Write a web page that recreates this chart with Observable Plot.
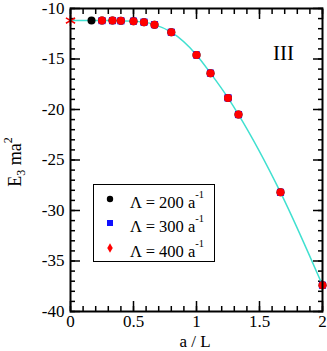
<!DOCTYPE html>
<html><head><meta charset="utf-8">
<script src="https://cdn.jsdelivr.net/npm/d3@7"></script>
<script src="https://cdn.jsdelivr.net/npm/@observablehq/plot@0.6"></script>
<style>body{margin:0;background:#fff}#chart{width:327px;height:351px}</style>
</head><body><div id="chart"></div>
<script>
// data
const x200 = [0.1667, 0.25, 0.3333, 0.4, 0.5, 0.5833, 0.6667, 0.8, 1.0, 1.1111, 1.25, 1.3333, 1.6667, 2.0];
const e200 = [-11.2, -11.2, -11.2, -11.22, -11.25, -11.35, -11.6, -12.35, -14.6, -16.4, -18.85, -20.5, -28.2, -37.4];
const x300 = [0.25, 0.3333, 0.4, 0.5, 0.5833, 0.6667, 0.8, 1.0, 1.1111, 1.25, 1.3333, 1.6667, 2.0];
const e300 = [-11.2, -11.2, -11.22, -11.25, -11.35, -11.6, -12.35, -14.6, -16.4, -18.85, -20.5, -28.2, -37.4];
const x400 = [0.25, 0.3333, 0.4, 0.5, 0.5833, 0.6667, 0.8, 1.0, 1.1111, 1.25, 1.3333, 1.6667, 2.0];
const e400 = [-11.2, -11.2, -11.22, -11.25, -11.35, -11.6, -12.35, -14.6, -16.4, -18.85, -20.5, -28.2, -37.4];
const xLimit = [0];
const eLimit = [-11.2];
const fitX = [0, 0.1667, 0.25, 0.3333, 0.4, 0.5, 0.5833, 0.6667, 0.8, 1.0, 1.1111, 1.25, 1.3333, 1.6667, 2.0];
const fitE = [-11.2, -11.2, -11.2, -11.2, -11.22, -11.25, -11.35, -11.6, -12.35, -14.6, -16.4, -18.85, -20.5, -28.2, -37.4];
const xMajor = [0, 0.5, 1, 1.5, 2];
const xMinor = [0,0.1,0.2,0.3,0.4,0.5,0.6,0.7,0.8,0.9,1,1.1,1.2,1.3,1.4,1.5,1.6,1.7,1.8,1.9,2];
const yMajor = [-40, -35, -30, -25, -20, -15, -10];
const yMinor = [-40,-39,-38,-37,-36,-35,-34,-33,-32,-31,-30,-29,-28,-27,-26,-25,-24,-23,-22,-21,-20,-19,-18,-17,-16,-15,-14,-13,-12,-11,-10];
const seriesLabels = ["200", "300", "400"];
const panelLabel = "III";

const font = "Liberation Serif";
const tickOpts = {stroke: "black", fill: "none", label: null, strokeWidth: 1.5};
const plot = Plot.plot({
  width: 327, height: 351,
  marginLeft: 70, marginRight: 5, marginTop: 8, marginBottom: 40,
  style: {fontFamily: font, fontSize: "17px", color: "black", background: "white"},
  x: {domain: [0, 2], axis: null},
  y: {domain: [-40, -10], axis: null},
  marks: [
    Plot.axisX({anchor: "bottom", ticks: xMinor, tickSize: -5, ...tickOpts}),
    Plot.axisX({anchor: "bottom", ticks: xMajor, tickSize: -10, ...tickOpts}),
    Plot.axisX({anchor: "top", ticks: xMinor, tickSize: -5, ...tickOpts}),
    Plot.axisX({anchor: "top", ticks: xMajor, tickSize: -10, ...tickOpts}),
    Plot.axisY({anchor: "left", ticks: yMinor, tickSize: -5, ...tickOpts}),
    Plot.axisY({anchor: "left", ticks: yMajor, tickSize: -10, ...tickOpts}),
    Plot.axisY({anchor: "right", ticks: yMinor, tickSize: -5, ...tickOpts}),
    Plot.axisY({anchor: "right", ticks: yMajor, tickSize: -10, ...tickOpts}),
    Plot.axisX({anchor: "bottom", ticks: xMajor, tickSize: 0, tickPadding: 3, label: null, fill: "black", fontSize: 17, tickFormat: d => String(d)}),
    Plot.axisY({anchor: "left", ticks: yMajor, tickSize: 0, tickPadding: 6, label: null, fill: "black", fontSize: 17, tickFormat: d => String(d)}),
    Plot.line(fitX, {x: (d, i) => fitX[i], y: (d, i) => fitE[i], stroke: "#40e0d0", strokeWidth: 1.5, curve: "monotone-x"}),
    Plot.dot(x200, {x: (d, i) => x200[i], y: (d, i) => e200[i], r: 4, fill: "black", symbol: "circle"}),
    Plot.dot(x300, {x: (d, i) => x300[i], y: (d, i) => e300[i], r: 4, fill: "#1010ff", symbol: "square"}),
    Plot.dot(x400, {x: (d, i) => x400[i], y: (d, i) => e400[i], r: 4, fill: "red", symbol: "circle"}),
    Plot.dot(xLimit, {x: (d, i) => xLimit[i], y: (d, i) => eLimit[i], r: 5, stroke: "red", strokeWidth: 1.5, symbol: "asterisk"}),
    Plot.text([panelLabel], {text: d => d, frameAnchor: "top-right", dx: -39, dy: 45, lineAnchor: "middle", textAnchor: "middle", fontSize: 21, fill: "black"}),
    Plot.frame({stroke: "black", strokeWidth: 2})
  ]
});
document.getElementById("chart").appendChild(plot);

const svg = d3.select(plot);
// axis titles
svg.append("text").attr("x", 195).attr("y", 347).attr("text-anchor", "middle")
  .attr("font-family", font).attr("font-size", 17).attr("fill", "black").text("a / L");
const yl = svg.append("text").attr("transform", "translate(21,162) rotate(-90)").attr("text-anchor", "middle")
  .attr("font-family", font).attr("font-size", 18).attr("fill", "black");
yl.append("tspan").text("E");
yl.append("tspan").attr("font-size", 12).attr("dy", 4).text("3");
yl.append("tspan").attr("dy", -4).text(" ma");
yl.append("tspan").attr("font-size", 12).attr("dy", -9).text("2");

// legend
const lg = svg.append("g").attr("font-family", font).attr("fill", "black").attr("text-anchor", "start");
lg.append("rect").attr("x", 93.5).attr("y", 184.5).attr("width", 121).attr("height", 77)
  .attr("fill", "white").attr("stroke", "black").attr("stroke-width", 1);
const ys = [199, 223, 248];
const symbols = [
  d3.symbol(d3.symbolCircle, 32)(),
  d3.symbol(d3.symbolSquare, 36)(),
  d3.symbol(d3.symbolDiamond, 26)()
];
const cols = ["black", "#1010ff", "red"];
seriesLabels.forEach((s, i) => {
  lg.append("path").attr("d", symbols[i]).attr("transform", `translate(110,${ys[i]})`).attr("fill", cols[i]);
  const t = lg.append("text").attr("x", 130).attr("y", ys[i] + 9).attr("font-size", 16.5).attr("text-anchor", "start");
  t.append("tspan").text(`Λ = ${s} a`);
  t.append("tspan").attr("font-size", 10.5).attr("dy", -10).text("-1");
});
</script>
</body></html>
